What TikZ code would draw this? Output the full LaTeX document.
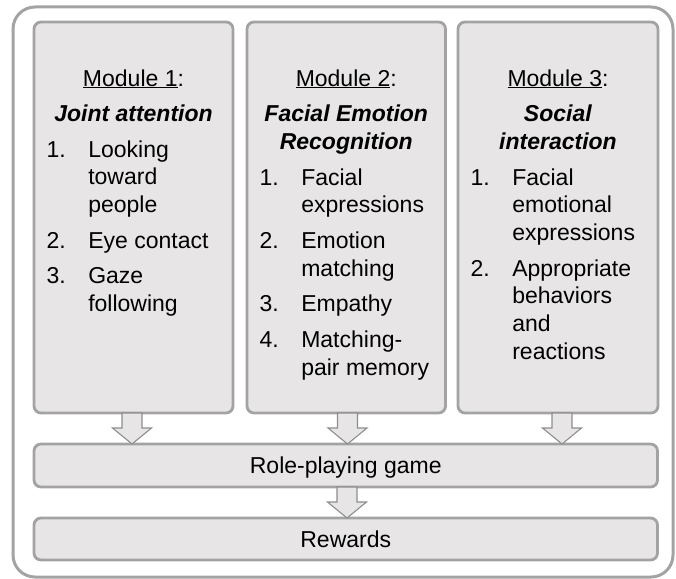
\documentclass[tikz,border=0pt]{standalone}
\usepackage{fontspec}
\setmainfont{Liberation Sans}
\usetikzlibrary{calc}

\definecolor{boxfill}{HTML}{E7E5E5}
\definecolor{boxline}{HTML}{A3A3A3}
\definecolor{arrline}{HTML}{8E8E8E}

% breiter Blockpfeil von #2 nach #3, #1 = Versatz in x
\newcommand{\blockarrow}[3][0]{%
	\draw[fatarrow] let \p1=([xshift=#1pt]#2), \p2=(#3) in
		(\x1-10pt,\y1) -- (\x1+10pt,\y1) -- (\x1+10pt,\y2+16pt) -- (\x1+19.5pt,\y2+16pt)
		-- (\x1,\y2) -- (\x1-19.5pt,\y2+16pt) -- (\x1-10pt,\y2+16pt) -- cycle;}

\begin{document}
\begin{tikzpicture}
				[
				x=1pt, y=-1pt, font=\fontsize{23}{27.7}\selectfont,
				%Voreinstellungen
				frame/.style={draw=boxline, line width=3pt, rounded corners=22pt},
				modbox/.style={draw=boxline, fill=boxfill, line width=2.8pt, rounded corners=7pt,
					inner sep=0pt, outer sep=0pt, minimum height=391pt},
				bar/.style={draw=boxline, fill=boxfill, line width=2.8pt, rounded corners=7pt,
					inner sep=0pt, outer sep=0pt, minimum width=623.5pt, text height=16.5pt, text depth=0pt},
				fatarrow/.style={draw=arrline, fill=boxfill, line width=1.1pt, line join=miter},
				txt/.style={inner sep=0pt}
				]
				\useasboundingbox (0,0) rectangle (676,578);
				%Rahmen
				\draw[frame] (13,7) rectangle (673,577);
				%Module
				\node[modbox, minimum width=199pt] (m1) at (133.5,217.5) {};
				\node[modbox, minimum width=198.5pt] (m2) at (346.25,217.5) {};
				\node[modbox, minimum width=200pt] (m3) at (558,217.5) {};
				%Spiel und Belohnung
				\node[bar, minimum height=43pt] (game) at (345.75,465.5) {Role-playing game};
				\node[bar, minimum height=42pt] (rewards) at (345.75,539) {Rewards};
				%Titel
				\node[txt, anchor=base] (t1) at ($(m1.north)+(0,64)$)
					{\begin{tabular}[t]{@{}c@{}}\underline{Module 1}:\\[8pt] \textbf{\textit{Joint attention}}\end{tabular}};
				\node[txt, anchor=base] (t2) at ($(m2.north)+(0,64)$)
					{\begin{tabular}[t]{@{}c@{}}\underline{Module 2}:\\[8pt] \textbf{\textit{Facial Emotion}}\\ \textbf{\textit{Recognition}}\end{tabular}};
				\node[txt, anchor=base] (t3) at ($(m3.north)+(0,64)$)
					{\begin{tabular}[t]{@{}c@{}}\underline{Module 3}:\\[8pt] \textbf{\textit{Social}}\\ \textbf{\textit{interaction}}\end{tabular}};
				%Listen
				\node[txt, anchor=base west] (l1) at ($(m1.north west)+(12.5,135)$)
					{\begin{tabular}[t]{@{}p{41.6pt}@{}l@{}}
						1. & Looking\\ & toward\\ & people\\[8pt]
						2. & Eye contact\\[8pt]
						3. & Gaze\\ & following
					\end{tabular}};
				\node[txt, anchor=base west] (l2) at ($(m2.north west)+(12.5,163)$)
					{\begin{tabular}[t]{@{}p{41.6pt}@{}l@{}}
						1. & Facial\\ & expressions\\[8pt]
						2. & Emotion\\ & matching\\[8pt]
						3. & Empathy\\[8pt]
						4. & Matching-\\ & pair memory
					\end{tabular}};
				\node[txt, anchor=base west] (l3) at ($(m3.north west)+(12.5,163)$)
					{\begin{tabular}[t]{@{}p{41.6pt}@{}l@{}}
						1. & Facial\\ & emotional\\ & expressions\\[8pt]
						2. & Appropriate\\ & behaviors\\ & and\\ & reactions
					\end{tabular}};
				%Pfeile
				\blockarrow[-1.5]{m1.south}{game.north}
				\blockarrow[1.25]{m2.south}{game.north}
				\blockarrow[4]{m3.south}{game.north}
				\blockarrow[1.25]{game.south}{rewards.north}
\end{tikzpicture}
\end{document}
